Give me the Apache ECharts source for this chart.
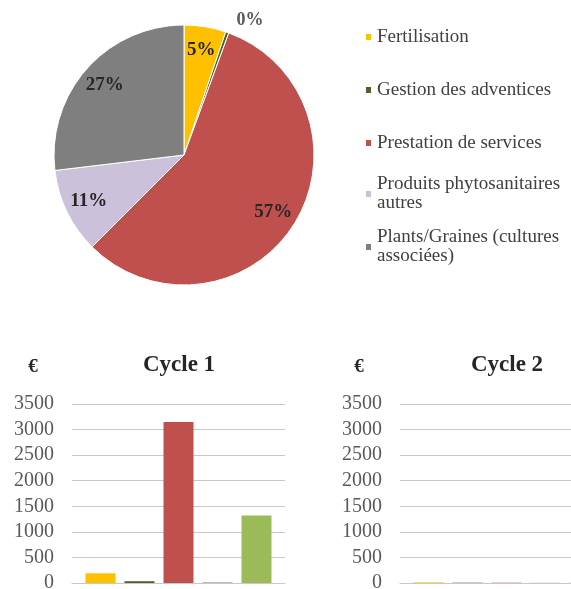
<!DOCTYPE html>
<html>
<head>
<meta charset="utf-8">
<script src="https://cdn.jsdelivr.net/npm/echarts@6/dist/echarts.min.js"></script>
<style>
  html, body { margin: 0; padding: 0; background: #ffffff; }
  #chart { width: 571px; height: 589px; }
</style>
</head>
<body>
<div id="chart"></div>
<script>
// Cost categories shared by the pie and the bar charts
const categories = [
  'Fertilisation',
  'Gestion des adventices',
  'Prestation de services',
  'Produits phytosanitaires autres',
  'Plants/Graines (cultures associées)'
];
// Share of total cost per category (%)
const pieShares = [5.2, 0.4, 56.9, 10.6, 26.9];
const pieColors = ['#FFC000', '#4F6228', '#C0504D', '#CCC1DA', '#7F7F7F'];

// Wrapped legend text for the long category names
const legendText = {
  'Produits phytosanitaires autres': 'Produits phytosanitaires\nautres',
  'Plants/Graines (cultures associées)': 'Plants/Graines (cultures\nassociées)'
};

// Spending per cycle (€)
const cycleNames = ['Cycle 1', 'Cycle 2'];
const cycle1Values = [190, 35, 3150, 15, 1320];
const cycle2Values = [12, 6, 6, 4, 6];
const barColors = ['#FFC000', '#4F6228', '#C0504D', '#A6A6A6', '#9BBB59'];

// Value axis ticks (€)
const yMin = 0, yMax = 3500, yStep = 500;

const SERIF = '"Liberation Serif", "DejaVu Serif", serif';
const pctLabel = p => Math.round(p.percent) + '%';

// One legend block per category so every entry keeps its own row
const legendRows = [
  { name: categories[0], top: 27.5, lines: 1 },
  { name: categories[1], top: 80.5, lines: 1 },
  { name: categories[2], top: 133.5, lines: 1 },
  { name: categories[3], top: 165.5, lines: 2 },
  { name: categories[4], top: 218.5, lines: 2 }
];
const LH = 19;
const legends = legendRows.map(r => ({
  orient: 'vertical',
  left: 364,
  top: r.top,
  padding: 0,
  itemWidth: 7,
  itemHeight: 8,
  icon: 'rect',
  selectedMode: false,
  data: [r.name],
  formatter: n => legendText[n] || n,
  textStyle: {
    fontFamily: SERIF,
    fontSize: 19,
    lineHeight: LH,
    color: '#404040',
    padding: r.lines === 2 ? [LH, 0, 0, 0] : 0
  }
}));

const cycles = [cycle1Values, cycle2Values];
const grids = [
  { left: 72, width: 213, top: 404, bottom: 6, outerBoundsMode: 'none', containLabel: false },
  { left: 400, width: 213, top: 404, bottom: 6, outerBoundsMode: 'none', containLabel: false }
];

const xAxes = cycleNames.map((c, g) => ({
  type: 'category',
  gridIndex: g,
  data: [c],
  axisTick: { show: false },
  axisLabel: { show: false },
  axisLine: { show: true, lineStyle: { color: '#C8C8C8', width: 1 } }
}));

const yAxes = cycleNames.map((c, g) => ({
  type: 'value',
  gridIndex: g,
  min: yMin,
  max: yMax,
  interval: yStep,
  axisLine: { show: false },
  axisTick: { show: false },
  splitLine: { lineStyle: { color: '#C8C8C8', width: 1 } },
  axisLabel: {
    margin: 18,
    fontFamily: SERIF,
    fontSize: 20,
    color: '#595959',
    formatter: v => String(v)
  }
}));

const barSeries = [];
cycles.forEach((vals, g) => {
  vals.forEach((v, i) => {
    barSeries.push({
      type: 'bar',
      name: cycleNames[g] + ' – ' + categories[i],
      xAxisIndex: g,
      yAxisIndex: g,
      data: [v],
      barWidth: 30,
      barGap: '30%',
      itemStyle: { color: barColors[i] },
      silent: true
    });
  });
});

const pieData = categories.map((n, i) => ({
  name: n,
  value: pieShares[i],
  itemStyle: { color: pieColors[i] }
}));

const option = {
  backgroundColor: '#ffffff',
  animation: false,
  title: [
    { text: 'Cycle 1', left: 179, top: 354, textAlign: 'center', padding: 0,
      textStyle: { fontFamily: SERIF, fontSize: 23, fontWeight: 'bold', color: '#262626' } },
    { text: 'Cycle 2', left: 507, top: 354, textAlign: 'center', padding: 0,
      textStyle: { fontFamily: SERIF, fontSize: 23, fontWeight: 'bold', color: '#262626' } },
    { text: '€', left: 33, top: 358, textAlign: 'center', padding: 0,
      textStyle: { fontFamily: SERIF, fontSize: 19, fontWeight: 'bold', color: '#262626' } },
    { text: '€', left: 359, top: 358, textAlign: 'center', padding: 0,
      textStyle: { fontFamily: SERIF, fontSize: 19, fontWeight: 'bold', color: '#262626' } }
  ],
  legend: legends,
  grid: grids,
  xAxis: xAxes,
  yAxis: yAxes,
  series: [
    {
      type: 'pie',
      center: [184, 155],
      radius: 130,
      startAngle: 90,
      clockwise: true,
      silent: true,
      itemStyle: { borderColor: '#ffffff', borderWidth: 1 },
      data: pieData.map((d, i) => Object.assign({}, d, {
        label: { show: i === 1 }
      })),
      label: {
        position: 'outside',
        formatter: pctLabel,
        fontFamily: SERIF,
        fontSize: 18,
        fontWeight: 'bold',
        color: '#595959'
      },
      labelLine: { show: false, length: 13, length2: 0 }
    },
    {
      // transparent ring carrying the in-slice percentage labels
      type: 'pie',
      center: [184, 155],
      radius: [76, 130],
      startAngle: 90,
      clockwise: true,
      silent: true,
      itemStyle: { color: 'rgba(0,0,0,0)', borderWidth: 0 },
      data: pieData.map((d, i) => ({
        name: d.name,
        value: d.value,
        itemStyle: { color: 'rgba(0,0,0,0)' },
        label: { show: i !== 1 }
      })),
      label: {
        position: 'inside',
        formatter: pctLabel,
        fontFamily: SERIF,
        fontSize: 19,
        fontWeight: 'bold',
        color: '#262626'
      },
      labelLine: { show: false }
    }
  ].concat(barSeries)
};

const chart = echarts.init(document.getElementById('chart'), null, { renderer: 'canvas' });
chart.setOption(option);
</script>
</body>
</html>
